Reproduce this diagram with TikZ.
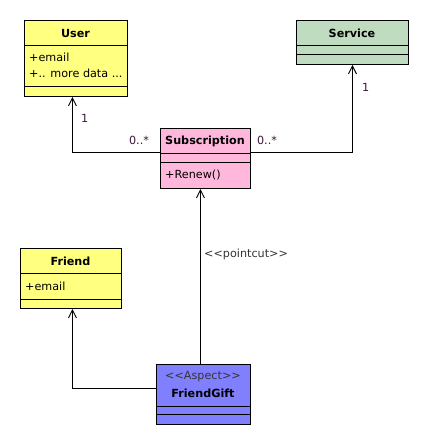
\documentclass[tikz,border=0pt]{standalone}
\usepackage{fontspec}
\newfontfamily\umlfont{DejaVu Sans}
\usetikzlibrary{arrows.meta}

\definecolor{classyellow}{RGB}{255,255,128}
\definecolor{classgreen}{RGB}{192,220,192}
\definecolor{classpink}{RGB}{255,184,220}
\definecolor{aspectblue}{RGB}{128,128,255}
\definecolor{multtext}{RGB}{60,20,60}

\tikzset{
  classbox/.style={draw, line width=0.9pt, rectangle, anchor=north west, inner sep=0pt},
  classname/.style={font=\umlfont\fontsize{11.2}{13}\selectfont\bfseries, inner sep=0pt},
  member/.style={font=\umlfont\fontsize{11.2}{13}\selectfont, anchor=west, inner sep=0pt},
  mult/.style={font=\umlfont\fontsize{11.2}{13}\selectfont, text=multtext, inner sep=0pt},
  assoc/.style={line width=0.9pt, -{Straight Barb[length=8pt,width=8pt]}},
}

\begin{document}
\begin{tikzpicture}[x=1pt,y=-1pt]
\useasboundingbox (0,0) rectangle (429,445);

% classes
\node[classbox, fill=classyellow, minimum width=103pt, minimum height=76pt] (user) at (24,20) {};
\draw[line width=0.9pt] (24,45) -- (127,45);
\draw[line width=0.9pt] (24,86) -- (127,86);
\node[classname] (usertitle) at (75.5,33) {User};
\node[member] (useremail) at (29,57) {+email};
\node[member] (userdata) at (29,73) {+.. more data ...};

\node[classbox, fill=classgreen, minimum width=112pt, minimum height=44pt] (service) at (296,20) {};
\draw[line width=0.9pt] (296,45) -- (408,45);
\draw[line width=0.9pt] (296,54) -- (408,54);
\node[classname] (servicetitle) at (352,33) {Service};

\node[classbox, fill=classpink, minimum width=90pt, minimum height=60pt] (subs) at (160,128) {};
\draw[line width=0.9pt] (160,153) -- (250,153);
\draw[line width=0.9pt] (160,162) -- (250,162);
\node[classname] (substitle) at (205,141) {Subscription};
\node[member] (subsrenew) at (165,175) {+Renew()};

\node[classbox, fill=classyellow, minimum width=101pt, minimum height=60pt] (friend) at (20,248) {};
\draw[line width=0.9pt] (20,273) -- (121,273);
\draw[line width=0.9pt] (20,299) -- (121,299);
\node[classname] (friendtitle) at (70.5,261) {Friend};
\node[member] (friendemail) at (25,286) {+email};

\node[classbox, fill=aspectblue, minimum width=94pt, minimum height=60pt] (gift) at (156,364) {};
\draw[line width=0.9pt] (156,406) -- (250,406);
\draw[line width=0.9pt] (156,414) -- (250,414);
\node[member, anchor=center, text=black!80] (giftstereo) at (203,377) {<<Aspect>>};
\node[classname] (gifttitle) at (203,393) {FriendGift};

% connectors
\draw[assoc] ([yshift=-24pt]subs.north west) -| ([xshift=-3.5pt]user.south);
\draw[assoc] ([yshift=-24pt]subs.north east) -| (service.south);
\draw[assoc] ([yshift=-24pt]gift.north west) -| ([xshift=1.5pt]friend.south);
\draw[assoc] ([xshift=-3pt]gift.north) -- ([xshift=-5pt]subs.south);

% labels
\node[mult, anchor=west] (usermult) at (81,118) {1};
\node[mult] (subsleft) at (139,140) {0..*};
\node[mult] (subsright) at (267,140) {0..*};
\node[mult, anchor=west] (servicemult) at (362,87) {1};
\node[member, text=black!80] (pointcut) at (204,254) {<<pointcut>>};
\end{tikzpicture}
\end{document}
